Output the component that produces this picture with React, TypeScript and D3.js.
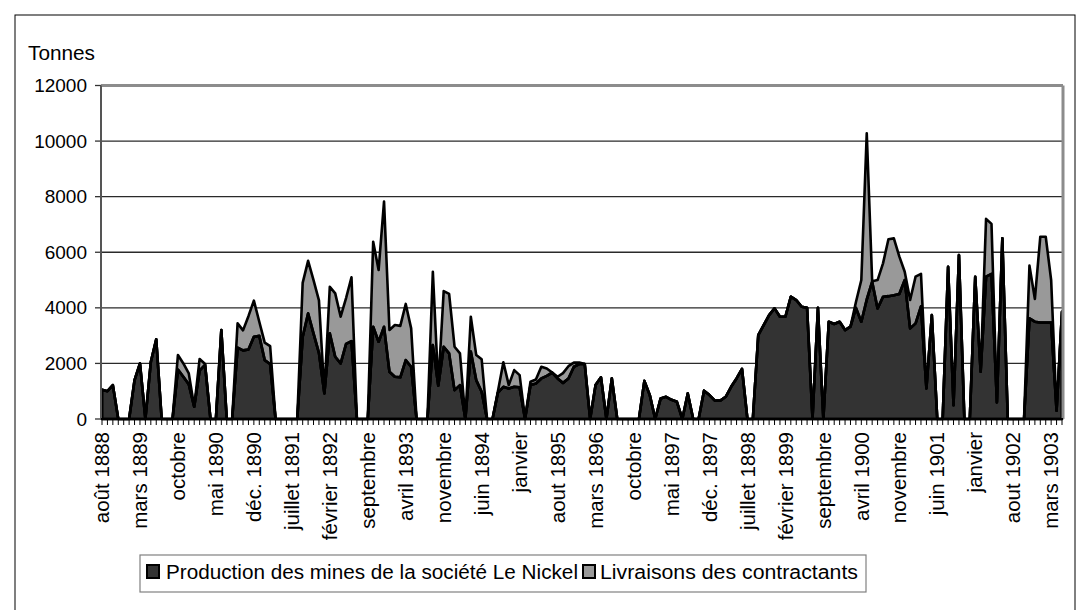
import * as d3 from "d3";
import React from "react";

// monthly values, août 1888 -> mai 1903 (tonnes)
const production = [
  1050, 1000, 1220, 0, 0, 0, 1400, 2000, 0, 2050,
  2870, 0, 0, 0, 1780, 1520, 1250, 440, 1750, 1950,
  0, 0, 3200, 0, 0, 2570, 2470, 2500, 2960, 2990,
  2120, 1980, 0, 0, 0, 0, 0, 2960, 3800, 3080,
  2380, 920, 3080, 2240, 2000, 2700, 2800, 0, 0, 0,
  3320, 2780, 3320, 1700, 1520, 1500, 2120, 1880, 0, 0,
  0, 2660, 1200, 2600, 2360, 1040, 1220, 0, 2430, 1400,
  980, 0, 0, 950, 1160, 1100, 1160, 1140, 0, 1220,
  1280, 1460, 1550, 1670, 1460, 1300, 1460, 1880, 1980, 1980,
  0, 1220, 1500, 0, 1460, 0, 0, 0, 0, 0,
  1370, 860, 0, 740, 800, 690, 620, 0, 920, 0,
  0, 1020, 860, 660, 660, 800, 1160, 1460, 1800, 0,
  0, 3020, 3380, 3740, 3980, 3680, 3680, 4400, 4280, 4040,
  4000, 0, 4000, 0, 3500, 3420, 3500, 3200, 3320, 4000,
  3500, 4300, 4940, 3980, 4400, 4420, 4450, 4500, 5000, 3260,
  3440, 4050, 1100, 3740, 0, 0, 5480, 500, 5900, 0,
  0, 5120, 1700, 5120, 5220, 600, 6500, 0, 0, 0,
  0, 3620, 3500, 3470, 3470, 3470, 300, 3860,
];

const contractants = [
  0, 0, 0, 0, 0, 0, 0, 0, 0, 0,
  0, 0, 0, 0, 520, 480, 390, 0, 410, 30,
  0, 0, 0, 0, 0, 870, 720, 1200, 1300, 510,
  630, 640, 0, 0, 0, 0, 0, 1940, 1890, 1920,
  1890, 0, 1680, 2280, 1680, 1650, 2300, 0, 0, 0,
  3060, 2580, 4500, 1500, 1860, 1850, 2020, 1380, 0, 0,
  0, 2640, 0, 2000, 2140, 1560, 1140, 0, 1250, 900,
  1170, 0, 0, 50, 880, 120, 600, 440, 0, 120,
  140, 420, 270, 0, 60, 350, 440, 150, 50, 0,
  0, 0, 0, 0, 0, 0, 0, 0, 0, 0,
  0, 0, 0, 0, 0, 0, 0, 0, 0, 0,
  0, 0, 0, 0, 0, 0, 0, 0, 0, 0,
  0, 0, 0, 0, 0, 0, 0, 0, 0, 0,
  0, 0, 0, 0, 0, 0, 0, 0, 0, 200,
  1500, 5980, 20, 1020, 1200, 2050, 2050, 1350, 300, 1020,
  1680, 1170, 0, 0, 0, 0, 0, 0, 0, 0,
  0, 0, 0, 2080, 1800, 0, 0, 0, 0, 0,
  0, 1900, 820, 3090, 3090, 1530, 0, 0,
];

// one label every 7 months
const tickLabels = [
  "août 1888", "mars 1889", "octobre", "mai 1890", "déc. 1890", "juillet 1891",
  "février 1892", "septembre", "avril 1893", "novembre", "juin 1894", "janvier",
  "aout 1895", "mars 1896", "octobre", "mai 1897", "déc. 1897", "juillet 1898",
  "février 1899", "septembre", "avril 1900", "novembre", "juin 1901", "janvier",
  "aout 1902", "mars 1903",
];

const yTicks = [0, 2000, 4000, 6000, 8000, 10000, 12000];

const seriesNames = ["Production des mines de la société Le Nickel", "Livraisons des contractants"];
const seriesColors = ["#333333", "#999999"];

const font = "'Liberation Sans', Arial, sans-serif";

export default function App() {
  const left = 102, right = 1062, top = 85.5, bottom = 419;
  const n = production.length;

  const x = d3.scaleLinear().domain([0, n - 1]).range([left, right]);
  const y = d3.scaleLinear().domain([0, 12000]).range([bottom, top]);

  const rows = production.map((p, i) => ({ i, prod: p, contr: contractants[i] }));
  const stacked = d3.stack<any>().keys(["prod", "contr"])(rows);

  const area = d3.area<any>()
    .x(d => x(d.data.i))
    .y0(d => y(d[0]))
    .y1(d => y(d[1]));

  const paths = stacked.map(s => area(s) + "Z");

  const legendItems = [
    { sx: 147, tx: 166, len: 412 },
    { sx: 583, tx: 600, len: 258 },
  ];

  return (
    <svg width={1090} height={610} style={{ position: "absolute", left: 0, top: 0, background: "#fff" }}
      fontFamily={font}>
      <rect x={15} y={15} width={1060} height={600} fill="#fff" stroke="#000" strokeWidth={1} />

      <text x={28} y={60} fontSize={20.5} fill="#000" textLength={67} lengthAdjust="spacingAndGlyphs">Tonnes</text>

      {/* gridlines */}
      {yTicks.slice(1, -1).map(t => (
        <line key={t} x1={left - 1} x2={right} y1={y(t)} y2={y(t)} stroke="#2a2a2a" strokeWidth={1.4} />
      ))}

      {/* y axis labels and ticks */}
      {yTicks.map(t => (
        <g key={t}>
          <line x1={95} x2={101} y1={y(t)} y2={y(t)} stroke="#333" strokeWidth={1.3} />
          <text x={87} y={y(t)} dy="0.35em" textAnchor="end" fontSize={19} fill="#000">{t}</text>
        </g>
      ))}

      {/* stacked areas */}
      {paths.map((p, k) => (
        <path key={k} d={p} fill={seriesColors[k]} stroke="#000" strokeWidth={2.6} strokeLinejoin="round" />
      ))}
      <path d={area(stacked[0]) + "Z"} fill="none" stroke="#000" strokeWidth={2.6} strokeLinejoin="round" />

      {/* frame */}
      <line x1={left - 1} x2={right + 1} y1={top} y2={top} stroke="#8c8c8c" strokeWidth={3} />
      <line x1={right + 1} x2={right + 1} y1={top} y2={bottom} stroke="#8c8c8c" strokeWidth={3} />
      <line x1={left - 1} x2={left - 1} y1={top} y2={bottom} stroke="#555" strokeWidth={2} />
      <line x1={left - 1} x2={right + 1} y1={bottom} y2={bottom} stroke="#000" strokeWidth={2} />

      {/* monthly ticks */}
      {d3.range(n).map(i => (
        <line key={i} x1={x(i)} x2={x(i)} y1={bottom} y2={bottom + 6} stroke="#000" strokeWidth={1} />
      ))}

      {/* x labels */}
      {tickLabels.map((lab, k) => (
        <text key={k} transform={`translate(${x(k * 7)},432) rotate(-90)`} dy="0.35em" textAnchor="end"
          fontSize={20.5} fill="#000">{lab}</text>
      ))}

      {/* legend */}
      <rect x={140} y={555} width={726} height={37} fill="#fff" stroke="#808080" strokeWidth={1.2} />
      {seriesNames.map((name, k) => (
        <g key={k}>
          <rect x={legendItems[k].sx} y={565} width={12} height={13} fill={seriesColors[k]} stroke="#000" strokeWidth={2} />
          <text x={legendItems[k].tx} y={572} dy="0.35em" fontSize={20} fill="#000"
            textLength={legendItems[k].len} lengthAdjust="spacingAndGlyphs">{name}</text>
        </g>
      ))}
    </svg>
  );
}
